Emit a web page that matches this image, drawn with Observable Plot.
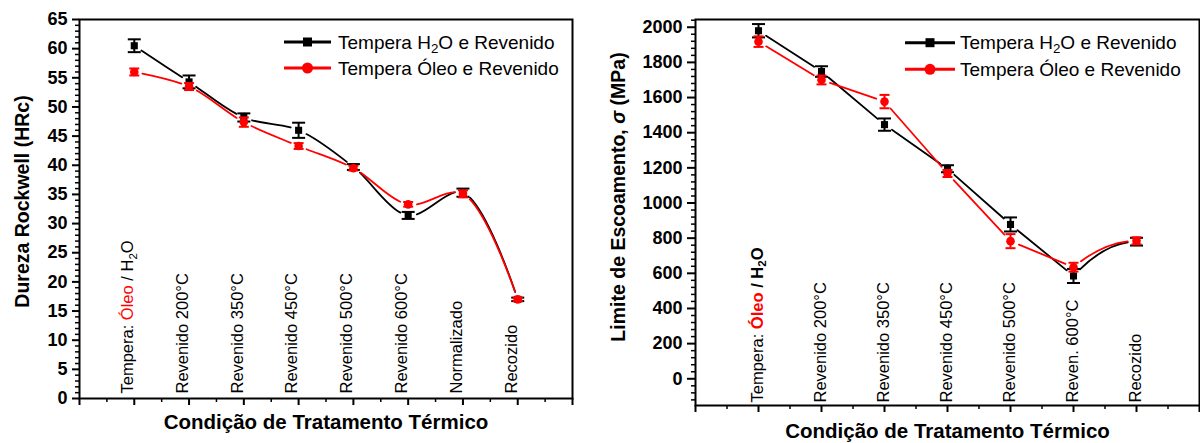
<!DOCTYPE html>
<html>
<head>
<meta charset="utf-8">
<script src="https://cdn.jsdelivr.net/npm/d3@7"></script>
<script src="https://cdn.jsdelivr.net/npm/@observablehq/plot@0.6"></script>
<style>
  body { margin: 0; background: #fff; }
  #wrap { display: flex; width: 1200px; height: 443px; }
  #wrap > div { width: 600px; height: 443px; }
  svg { font-family: "Liberation Sans", Arial, sans-serif; }
  svg g[aria-label="y-axis tick label"] { font-size: 18px !important; font-weight: bold !important; }
</style>
</head>
<body>
<div id="wrap"><div id="left"></div><div id="right"></div></div>
<script>
// ---------- Left chart: Rockwell hardness ----------
const hardnessCategories = ["Tempera: Óleo / H2O", "Revenido 200°C", "Revenido 350°C", "Revenido 450°C",
  "Revenido 500°C", "Revenido 600°C", "Normalizado", "Recozido"];
const hardnessH2O    = [60.5, 54.3, 48.2, 46.0, 39.7, 31.4, 35.3, 17.0];
const hardnessH2OErr = [1.1, 1.1, 0.7, 1.3, 0.5, 0.6, 0.7, 0.3];
const hardnessOleo    = [56.0, 53.5, 47.4, 43.3, 39.5, 33.3, 35.1, 17.0];
const hardnessOleoErr = [0.6, 0.6, 0.8, 0.5, 0.4, 0.4, 0.6, 0.3];
const hardnessTicks = [0, 5, 10, 15, 20, 25, 30, 35, 40, 45, 50, 55, 60, 65];
const hardnessYLabel = "Dureza Rockwell (HRc)";

// ---------- Right chart: yield strength ----------
const yieldCategories = ["Tempera: Óleo / H2O", "Revenido 200°C", "Revenido 350°C", "Revenido 450°C",
  "Revenido 500°C", "Reven. 600°C", "Recozido"];
const yieldH2O    = [1980, 1748, 1446, 1195, 878, 585, 780];
const yieldH2OErr = [38, 30, 35, 20, 40, 40, 22];
const yieldOleo    = [1918, 1700, 1577, 1168, 783, 635, 785];
const yieldOleoErr = [30, 25, 38, 20, 40, 25, 20];
const yieldTicks = [0, 200, 400, 600, 800, 1000, 1200, 1400, 1600, 1800, 2000];
const yieldYLabel = "Limite de Escoamento, σ (MPa)";

const xTitle = "Condição de Tratamento Térmico";
const seriesNames = ["Tempera H2O e Revenido", "Tempera Óleo e Revenido"];

const BLACK = "#000000", RED = "#ff0000";
const FONT = "'Liberation Sans', Arial, sans-serif";

function buildRows(cats, a, ae, b, be) {
  return cats.map((c, i) => ({pos: i + 1, cat: c, h: a[i], he: ae[i], o: b[i], oe: be[i]}));
}
const hardRows = buildRows(hardnessCategories, hardnessH2O, hardnessH2OErr, hardnessOleo, hardnessOleoErr);
const yieldRows = buildRows(yieldCategories, yieldH2O, yieldH2OErr, yieldOleo, yieldOleoErr);

// horizontal cap symbol for error bars
const capSymbol = {draw(ctx, size) { const w = Math.sqrt(size / Math.PI); ctx.moveTo(-w, 0); ctx.lineTo(w, 0); }};

// curve: ends with horizontal tangent
function curveEaseEnd(context) {
  let pts = [];
  return {
    areaStart() {}, areaEnd() {},
    lineStart() { pts = []; },
    point(x, y) { pts.push([+x, +y]); },
    lineEnd() {
      pts.forEach((p, i) => {
        if (i === 0) context.moveTo(p[0], p[1]);
        else { const q = pts[i - 1]; context.quadraticCurveTo((q[0] + p[0]) / 2, p[1], p[0], p[1]); }
      });
    }
  };
}

function seriesMarks(rows, key, errKey, color, symbol, r, capR, lineMarks) {
  return [
    ...lineMarks,
    Plot.ruleX(rows, {x: "pos", y1: d => d[key] - d[errKey], y2: d => d[key] + d[errKey], stroke: color, strokeWidth: 2}),
    Plot.dot(rows, {x: "pos", y: d => d[key] + d[errKey], symbol: capSymbol, r: capR, stroke: color, strokeWidth: 2, fill: "none"}),
    Plot.dot(rows, {x: "pos", y: d => d[key] - d[errKey], symbol: capSymbol, r: capR, stroke: color, strokeWidth: 2, fill: "none"}),
    Plot.dot(rows, {x: "pos", y: key, symbol, r, fill: color, stroke: "none"})
  ];
}

function axesMarks(majorY, minorY, majorX, minorX, tickY, padY) {
  return [
    Plot.axisY({ticks: minorY, tickSize: 4, strokeWidth: 1.5, fill: "none", label: null}),
    Plot.axisY({ticks: majorY, tickSize: tickY, strokeWidth: 2, tickPadding: padY, tickFormat: d => String(d),
      fontSize: 18, fontWeight: "bold", label: null, fill: BLACK}),
    Plot.axisX({ticks: minorX, tickSize: 4, strokeWidth: 1.5, fill: "none", label: null}),
    Plot.axisX({ticks: majorX, tickSize: 7, strokeWidth: 2, fill: "none", label: null}),
    Plot.frame({stroke: BLACK, strokeWidth: 2})
  ];
}

function fixTemperaLabel(svg, label, boldTail) {
  d3.select(svg).selectAll("text").filter(function() { return this.textContent === label; }).each(function() {
    const t = d3.select(this);
    t.text(null);
    t.append("tspan").text("Tempera: ");
    const tail = [];
    tail.push(t.append("tspan").attr("fill", RED).text("Óleo"));
    tail.push(t.append("tspan").text(" / H"));
    tail.push(t.append("tspan").attr("font-size", "0.7em").attr("dy", "0.3em").text("2"));
    tail.push(t.append("tspan").attr("dy", "-0.21em").text("O"));
    if (boldTail) tail.forEach(s => s.attr("font-weight", "bold"));
  });
}

// Origin-style "gap to symbol": dash each line so it stops short of its own markers
function addGaps(svg, gap) {
  const root = d3.select(svg);
  [BLACK, RED].forEach(color => {
    const pts = [];
    root.selectAll(`g[aria-label="dot"][fill="${color}"] > *`).each(function() {
      if (this.tagName.toLowerCase() === "circle") pts.push([+this.getAttribute("cx"), +this.getAttribute("cy")]);
      else {
        const m = /translate\(\s*([-\d.e]+)[ ,]+([-\d.e]+)\s*\)/.exec(this.getAttribute("transform") || "");
        if (m) pts.push([+m[1], +m[2]]);
      }
    });
    if (!pts.length) return;
    root.selectAll(`g[aria-label="line"][stroke="${color}"] path`).each(function() {
      let L;
      try { L = this.getTotalLength(); } catch (e) { return; }
      if (!(L > 0)) return;
      const step = 0.25;
      const runs = [];
      let cur = null, len = 0;
      for (let s = 0; s < L; s += step) {
        const p = this.getPointAtLength(s);
        const vis = !pts.some(([x, y]) => Math.hypot(p.x - x, p.y - y) < gap);
        if (cur === null) { cur = vis; len = 0; }
        if (vis !== cur) { runs.push([cur, len]); cur = vis; len = 0; }
        len += Math.min(step, L - s);
      }
      runs.push([cur, len]);
      const arr = [];
      if (!runs[0][0]) arr.push(0);
      runs.forEach(r => arr.push(+r[1].toFixed(2)));
      if (arr.length % 2 === 1) arr.push(+L.toFixed(2));
      this.setAttribute("stroke-dasharray", arr.join(" "));
    });
  });
}

function addLegend(svg, x0, x1, tx, y0, y1) {
  const g = d3.select(svg).append("g").attr("font-family", FONT).attr("font-size", 19).attr("text-anchor", "start");
  const rows = [[y0, BLACK, "square"], [y1, RED, "circle"]];
  rows.forEach(([y, color, sym], i) => {
    g.append("line").attr("x1", x0).attr("x2", x1).attr("y1", y).attr("y2", y).attr("stroke", color).attr("stroke-width", 3);
    const mx = (x0 + x1) / 2;
    if (sym === "square") g.append("rect").attr("x", mx - 4.5).attr("y", y - 4.5).attr("width", 9).attr("height", 9).attr("fill", color);
    else g.append("circle").attr("cx", mx).attr("cy", y).attr("r", 5.5).attr("fill", color);
    const t = g.append("text").attr("x", tx).attr("y", y + 6.6).attr("fill", BLACK).attr("text-anchor", "start");
    if (i === 0) {
      const name = seriesNames[0];
      const k = name.indexOf("H2O");
      t.append("tspan").text(name.slice(0, k + 1));
      t.append("tspan").attr("font-size", "0.7em").attr("dy", "0.3em").text("2");
      t.append("tspan").attr("dy", "-0.21em").text(name.slice(k + 2));
    } else {
      t.text(seriesNames[1]);
    }
  });
}

const range = (a, b, s) => d3.range(a, b + s / 2, s);

// ----- Left plot -----
const leftPlot = Plot.plot({
  width: 600, height: 443,
  marginLeft: 79, marginRight: 28, marginTop: 19, marginBottom: 45,
  style: {fontFamily: FONT, color: BLACK, background: "white", overflow: "visible"},
  x: {type: "linear", domain: [0, 9], axis: null},
  y: {type: "linear", domain: [0, 65], axis: null},
  marks: [
    ...axesMarks(hardnessTicks, range(0, 65, 1).filter(v => v % 5 !== 0), range(0, 9, 1), range(0.5, 8.5, 1), 7, 5),
    Plot.text(hardRows, {x: "pos", text: "cat", frameAnchor: "bottom", lineAnchor: "middle", rotate: -90, textAnchor: "start", dy: -5, dx: -6.5, fontSize: 16.5, fill: BLACK}),
    Plot.text([hardnessYLabel], {text: d => d, frameAnchor: "left", lineAnchor: "middle", textAnchor: "middle", rotate: -90, dx: -57, dy: -7.5, fontSize: 19.5, fontWeight: "bold", fill: BLACK}),
    Plot.text([xTitle], {text: d => d, frameAnchor: "bottom", lineAnchor: "middle", textAnchor: "middle", dy: 24, fontSize: 20.5, fontWeight: "bold", fill: BLACK}),
    ...seriesMarks(hardRows, "h", "he", BLACK, "square", 4, 6.5,
      [Plot.line(hardRows, {x: "pos", y: "h", stroke: BLACK, strokeWidth: 1.8, curve: "catmull-rom"})]),
    ...seriesMarks(hardRows, "o", "oe", RED, "circle", 4.3, 5,
      [Plot.line(hardRows, {x: "pos", y: "o", stroke: RED, strokeWidth: 1.8, curve: "catmull-rom"})])
  ]
});
fixTemperaLabel(leftPlot, hardnessCategories[0], false);
addLegend(leftPlot, 284, 331, 338, 42, 68);
document.getElementById("left").appendChild(leftPlot);
addGaps(leftPlot, 8.5);

// ----- Right plot -----
const n = yieldRows.length;
const firstPart = yieldRows.slice(0, n - 1);
const lastPart = yieldRows.slice(n - 2);
const rightPlot = Plot.plot({
  width: 600, height: 443,
  marginLeft: 95, marginRight: 1, marginTop: 19, marginBottom: 38,
  style: {fontFamily: FONT, color: BLACK, background: "white", overflow: "visible"},
  x: {type: "linear", domain: [0, 8], axis: null},
  y: {type: "linear", domain: [-152, 2044], axis: null},
  marks: [
    ...axesMarks(yieldTicks, range(-120, 2040, 40).filter(v => v % 200 !== 0), range(0, 8, 1), range(0.5, 7.5, 1), 8, 5),
    Plot.text(yieldRows, {x: "pos", text: "cat", frameAnchor: "bottom", lineAnchor: "middle", rotate: -90, textAnchor: "start", dy: -3, dx: -1, fontSize: 16.5, fill: BLACK}),
    Plot.text([yieldYLabel], {text: d => d, frameAnchor: "left", lineAnchor: "middle", textAnchor: "middle", rotate: -90, dx: -77, dy: -15.5, fontSize: 19.5, fontWeight: "bold", fill: BLACK}),
    Plot.text([xTitle], {text: d => d, frameAnchor: "bottom", lineAnchor: "middle", textAnchor: "middle", dy: 26, fontSize: 20.5, fontWeight: "bold", fill: BLACK}),
    ...seriesMarks(yieldRows, "h", "he", BLACK, "square", 4, 6.5, [
      Plot.line(firstPart, {x: "pos", y: "h", stroke: BLACK, strokeWidth: 1.8}),
      Plot.line(lastPart, {x: "pos", y: "h", stroke: BLACK, strokeWidth: 1.8, curve: curveEaseEnd})
    ]),
    ...seriesMarks(yieldRows, "o", "oe", RED, "circle", 4.3, 5, [
      Plot.line(firstPart, {x: "pos", y: "o", stroke: RED, strokeWidth: 1.8}),
      Plot.line(lastPart, {x: "pos", y: "o", stroke: RED, strokeWidth: 1.8, curve: curveEaseEnd})
    ])
  ]
});
fixTemperaLabel(rightPlot, yieldCategories[0], true);
// italic sigma in the y title
d3.select(rightPlot).selectAll("text").filter(function() { return this.textContent === yieldYLabel; }).each(function() {
  const t = d3.select(this);
  const k = yieldYLabel.indexOf("σ");
  t.text(null);
  t.append("tspan").text(yieldYLabel.slice(0, k));
  t.append("tspan").attr("font-style", "italic").text("σ");
  t.append("tspan").text(yieldYLabel.slice(k + 1));
});
addLegend(rightPlot, 305, 355, 360, 42.7, 69.3);
document.getElementById("right").appendChild(rightPlot);
addGaps(rightPlot, 9);
</script>
</body>
</html>
